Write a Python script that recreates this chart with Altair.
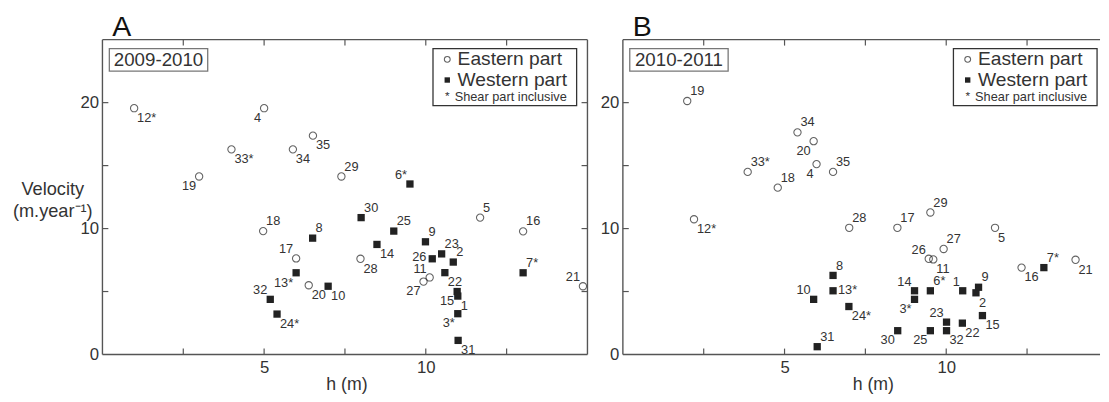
import altair as alt
import pandas as pd

FONT = "Liberation Sans"
INK = "#222222"
TXT = "#333333"
FRAME = "#555555"

# ---------------- Panel A : 2009-2010 ----------------
a_east_id = ["12*", "4", "35", "33*", "34", "19", "29", "18", "17", "20", "5", "16", "28", "11", "27", "21"]
a_east_h = [0.98, 5.0, 6.51, 3.99, 5.89, 2.99, 7.39, 4.97, 5.99, 6.38, 11.68, 13.01, 7.98, 10.12, 9.93, 14.86]
a_east_v = [19.56, 19.56, 17.38, 16.29, 16.29, 14.14, 14.14, 9.8, 7.63, 5.5, 10.87, 9.78, 7.6, 6.12, 5.79, 5.42]
a_east_pos = ["lr", "ll", "lr", "lr", "lr", "ll", "ur", "ur", "ul", "lr", "ur", "ur", "lr", "ul", "ll", "ul"]

a_west_id = ["6*", "30", "25", "14", "9", "23", "26", "2", "22", "7*", "15", "1", "3*", "31", "8", "13*", "10", "32", "24*"]
a_west_h = [9.51, 8.0, 9.01, 8.49, 9.99, 10.49, 10.2, 10.85, 10.59, 13.01, 10.97, 10.99, 10.99, 11.0, 6.5, 5.99, 6.98, 5.19, 5.4]
a_west_v = [13.54, 10.87, 9.8, 8.74, 8.95, 7.99, 7.6, 7.34, 6.5, 6.49, 5.0, 4.64, 3.24, 1.12, 9.24, 6.49, 5.42, 4.38, 3.21]
a_west_pos = ["ul", "ur", "ur", "lr", "ur", "ur", "l", "ur", "lr", "ur", "ll", "lr", "ll", "lr", "ur", "ll", "lr", "ul", "lr"]

# ---------------- Panel B : 2010-2011 ----------------
b_east_id = ["19", "34", "20", "4", "35", "33*", "18", "12*", "28", "17", "29", "5", "27", "26", "11", "16", "21"]
b_east_h = [1.99, 5.4, 5.9, 5.99, 6.5, 3.86, 4.79, 2.2, 7.0, 8.49, 9.51, 11.51, 9.92, 9.46, 9.6, 12.33, 14.0]
b_east_v = [20.13, 17.64, 16.94, 15.12, 14.5, 14.5, 13.25, 10.74, 10.06, 10.06, 11.28, 10.06, 8.38, 7.6, 7.55, 6.9, 7.52]
b_east_pos = ["ur", "ur", "ll", "ll", "ur", "ur", "ur", "lr", "ur", "ur", "ur", "lr", "ur", "ul", "lr", "lr", "lr"]

b_west_id = ["8", "13*", "10", "24*", "31", "14", "6*", "1", "9", "2", "3*", "23", "22", "15", "30", "25", "32", "7*"]
b_west_h = [6.5, 6.5, 5.9, 6.99, 6.01, 9.02, 9.51, 10.51, 11.0, 10.92, 9.02, 10.01, 10.5, 11.12, 8.5, 9.51, 10.01, 13.02]
b_west_v = [6.28, 5.06, 4.38, 3.81, 0.62, 5.06, 5.06, 5.06, 5.34, 4.9, 4.38, 2.57, 2.49, 3.09, 1.89, 1.89, 1.89, 6.9]
b_west_pos = ["ur", "r", "ul", "lr", "ur", "ul", "ur", "ul", "ur", "lr", "ll", "ul", "lr", "lr", "ll", "ll", "lr", "ur"]

X_TICKS = [2.5, 5, 7.5, 10, 12.5]
Y_TICKS = [5, 10, 15, 20]
X_LABELS = [5, 10]
Y_LABELS = [0, 10, 20]
Y_MAX = 25

LEGEND_LABELS = ["Eastern part", "Western part", "Shear part inclusive"]

H = 320
PX_PER_UNIT = 493 / 15.0

# label placement styles: dx, dy, align
PLACE = {
    "ur": (3, -10, "left"),
    "lr": (3, 10, "left"),
    "ul": (-3, -9, "right"),
    "ll": (-3, 10, "right"),
    "l": (-6, -2, "right"),
    "r": (5, -1, "left"),
}


def panel(letter, year, e_id, e_h, e_v, e_pos, w_id, w_h, w_v, w_pos, xmax, width, ytitle, right_frame, xtitle_x):
    xscale = alt.Scale(domain=[0, xmax], nice=False, zero=False)
    yscale = alt.Scale(domain=[0, Y_MAX], nice=False, zero=False)

    xaxis = alt.Axis(values=X_LABELS, ticks=False, domain=False, grid=False,
                     labelFontSize=17, labelPadding=5, labelColor=TXT,
                     title="h (m)", titleFontSize=18, titleFontWeight="normal",
                     titleColor=TXT, titlePadding=1, titleX=xtitle_x)
    if ytitle:
        yaxis = alt.Axis(values=Y_LABELS, ticks=False, domain=False, grid=False,
                         labelFontSize=17, labelPadding=4, labelColor=TXT,
                         title=["Velocity", "(m.year\u207b\u00b9)"], titleAngle=0,
                         titleAlign="center", titleBaseline="middle",
                         titleX=-51, titleY=151, titleFontSize=18.5,
                         titleFontWeight="normal", titleColor=TXT, titleLineHeight=23)
    else:
        yaxis = alt.Axis(values=Y_LABELS, ticks=False, domain=False, grid=False,
                         labelFontSize=17, labelPadding=4, labelColor=TXT, title=None)

    def X(field):
        return alt.X(field, scale=xscale, axis=xaxis)

    def Y(field):
        return alt.Y(field, scale=yscale, axis=yaxis)

    east = pd.DataFrame({"id": e_id, "h": e_h, "v": e_v, "pos": e_pos})
    west = pd.DataFrame({"id": w_id, "h": w_h, "v": w_v, "pos": w_pos})
    allpts = pd.concat([east, west], ignore_index=True)

    layers = []
    layers.append(
        alt.Chart(east).mark_point(shape="circle", filled=False, size=55, strokeWidth=1.1, color=INK)
        .encode(x=X("h:Q"), y=Y("v:Q"))
    )
    layers.append(
        alt.Chart(west).mark_square(size=55, color=INK, opacity=1)
        .encode(x=X("h:Q"), y=Y("v:Q"))
    )
    for key, (dx, dy, align) in PLACE.items():
        sub = allpts[allpts["pos"] == key]
        if len(sub) == 0:
            continue
        layers.append(
            alt.Chart(sub).mark_text(dx=dx, dy=dy, align=align, baseline="middle",
                                     fontSize=13, color=TXT, font=FONT)
            .encode(x=X("h:Q"), y=Y("v:Q"), text="id:N")
        )

    # inward ticks
    xt = pd.DataFrame({"h": X_TICKS})
    yt = pd.DataFrame({"v": Y_TICKS})
    tick_style = dict(color=FRAME, strokeWidth=1.2)
    layers.append(alt.Chart(xt).mark_rule(**tick_style).encode(
        x=X("h:Q"), y=alt.value(0), y2=alt.value(6)))
    layers.append(alt.Chart(xt).mark_rule(**tick_style).encode(
        x=X("h:Q"), y=alt.value(H), y2=alt.value(H - 6)))
    layers.append(alt.Chart(yt).mark_rule(**tick_style).encode(
        y=Y("v:Q"), x=alt.value(0), x2=alt.value(6)))
    if right_frame:
        layers.append(alt.Chart(yt).mark_rule(**tick_style).encode(
            y=Y("v:Q"), x=alt.value(width - 6), x2=alt.value(width)))

    one = pd.DataFrame({"k": [0]})
    frame_style = dict(color=FRAME, strokeWidth=1.4)
    layers.append(alt.Chart(one).mark_rule(**frame_style).encode(x=alt.value(0), x2=alt.value(width), y=alt.value(0)))
    layers.append(alt.Chart(one).mark_rule(**frame_style).encode(x=alt.value(0), x2=alt.value(width), y=alt.value(H)))
    layers.append(alt.Chart(one).mark_rule(**frame_style).encode(x=alt.value(0), y=alt.value(0), y2=alt.value(H)))
    if right_frame:
        layers.append(alt.Chart(one).mark_rule(**frame_style).encode(x=alt.value(width), y=alt.value(0), y2=alt.value(H)))

    # panel letter
    layers.append(alt.Chart(one).mark_text(align="left", baseline="alphabetic", fontSize=29, color="#111", font=FONT)
                  .encode(x=alt.value(10), y=alt.value(-4), text=alt.value(letter)))

    # year box
    layers.append(alt.Chart(one).mark_rect(fill="white", stroke="#777777", strokeWidth=1.3)
                  .encode(x=alt.value(7), x2=alt.value(107), y=alt.value(9), y2=alt.value(32)))
    layers.append(alt.Chart(one).mark_text(align="center", baseline="middle", fontSize=19, color=TXT, font=FONT)
                  .encode(x=alt.value(57), y=alt.value(21), text=alt.value(year)))

    # legend box
    layers.append(alt.Chart(one).mark_rect(fill="white", stroke="#333333", strokeWidth=1.3)
                  .encode(x=alt.value(336), x2=alt.value(482), y=alt.value(9), y2=alt.value(67)))
    layers.append(alt.Chart(one).mark_point(shape="circle", filled=False, size=35, strokeWidth=1.1, color=INK)
                  .encode(x=alt.value(350.5), y=alt.value(20)))
    layers.append(alt.Chart(one).mark_square(size=30, color=INK, opacity=1)
                  .encode(x=alt.value(350.5), y=alt.value(41)))
    layers.append(alt.Chart(one).mark_text(align="left", baseline="middle", fontSize=19.5, color=TXT, font=FONT)
                  .encode(x=alt.value(361), y=alt.value(20), text=alt.value(LEGEND_LABELS[0])))
    layers.append(alt.Chart(one).mark_text(align="left", baseline="middle", fontSize=19.5, color=TXT, font=FONT)
                  .encode(x=alt.value(361), y=alt.value(41), text=alt.value(LEGEND_LABELS[1])))
    layers.append(alt.Chart(one).mark_text(align="center", baseline="middle", fontSize=12, color=TXT, font=FONT)
                  .encode(x=alt.value(350.5), y=alt.value(57), text=alt.value("*")))
    layers.append(alt.Chart(one).mark_text(align="left", baseline="middle", fontSize=13, color=TXT, font=FONT)
                  .encode(x=alt.value(358), y=alt.value(58), text=alt.value(LEGEND_LABELS[2])))

    return alt.layer(*layers).properties(width=width, height=H)


WA = 493
WB = 485
panel_a = panel("A", "2009-2010", a_east_id, a_east_h, a_east_v, a_east_pos,
                a_west_id, a_west_h, a_west_v, a_west_pos, 15, WA, True, True, 248)
panel_b = panel("B", "2010-2011", b_east_id, b_east_h, b_east_v, b_east_pos,
                b_west_id, b_west_h, b_west_v, b_west_pos, WB / PX_PER_UNIT, WB, False, False, 254)

chart = (
    alt.hconcat(panel_a, panel_b, spacing=11)
    .properties(padding={"left": 4, "top": 2, "right": 0, "bottom": 0}, background="white")
    .configure(font=FONT)
    .configure_view(stroke=None)
)

chart.save("out.html", embed_options={"renderer": "svg", "actions": False})
